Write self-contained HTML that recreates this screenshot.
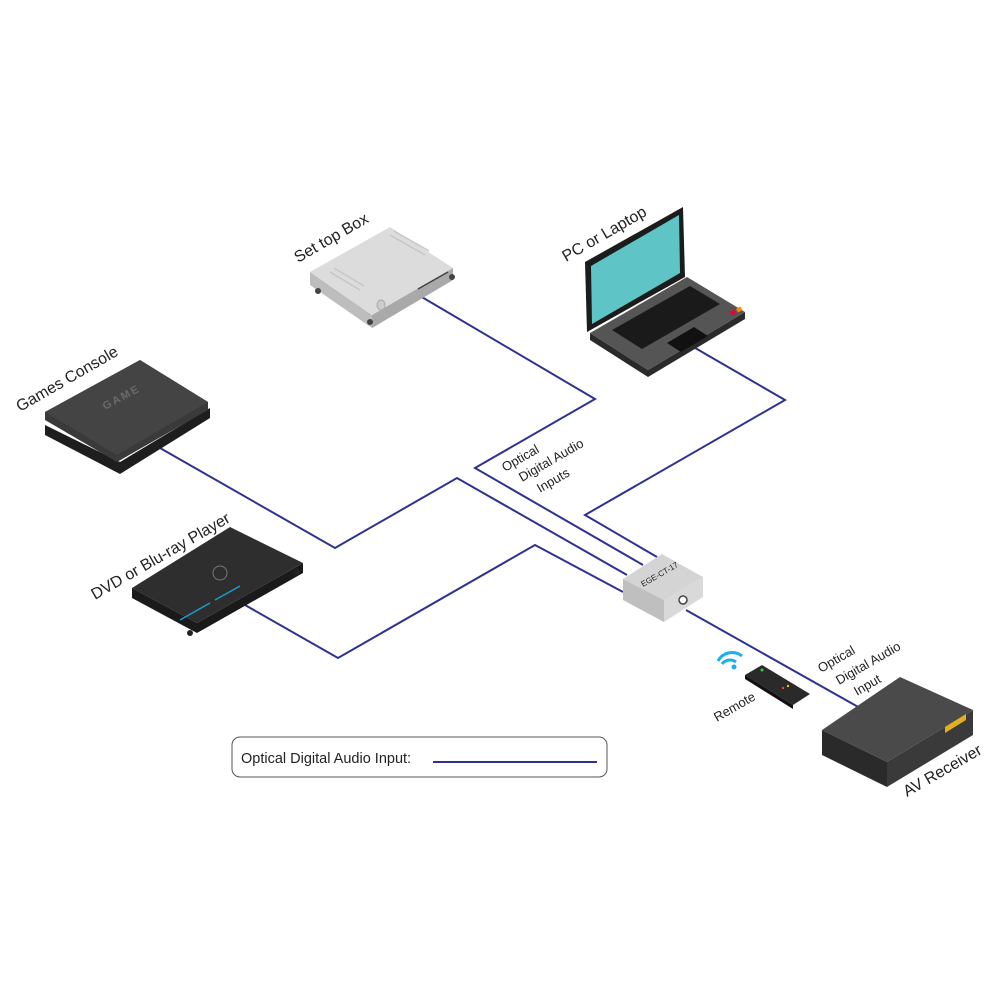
<!DOCTYPE html>
<html><head><meta charset="utf-8"><style>
html,body{margin:0;padding:0;background:#fff}
svg{display:block}
text{font-family:"Liberation Sans",sans-serif;fill:#222}
</style></head><body>
<svg width="1000" height="1000" viewBox="0 0 1000 1000" xmlns="http://www.w3.org/2000/svg">
<rect width="1000" height="1000" fill="#fff"/>
<g fill="none" stroke="#2e3192" stroke-width="2">
<polyline points="415,293 595,399 475,468 643,565"/>
<polyline points="160,448 335,548 457,478 627,575"/>
<polyline points="245,605 338,658 535,545 623,592"/>
<polyline points="690,345 785,400 585,515 657,557"/>
<line x1="686" y1="610" x2="860" y2="708"/>
</g>

<!-- Set top box -->
<polygon points="310,272 310,285 372,328 453,280 453,268 372,315" fill="#bdbdbd"/>
<polygon points="372,315 372,328 453,280 453,268" fill="#a9a9a9"/>
<polygon points="310,272 390,227 453,268 372,315" fill="#dcdcdc"/>
<circle cx="318" cy="291" r="3" fill="#444"/><circle cx="370" cy="322" r="3" fill="#444"/><circle cx="452" cy="277" r="3" fill="#444"/>
<g stroke="#c6c6c6" stroke-width="1.5"><line x1="330" y1="272" x2="360" y2="290"/><line x1="334" y1="268" x2="364" y2="286"/><line x1="390" y1="235" x2="425" y2="255"/><line x1="394" y1="231" x2="429" y2="251"/></g>
<g stroke="#444" stroke-width="1.5"><line x1="418" y1="289" x2="448" y2="272"/></g>
<ellipse cx="381" cy="305" rx="4" ry="5" fill="#ccc" stroke="#aaa"/>

<!-- Laptop -->
<polygon points="590,333 590,340 648,377 745,319 745,312 648,370" fill="#2a2a2a"/>
<polygon points="590,333 687,277 745,312 648,370" fill="#555"/>
<polygon points="585,262 683,207 685,277 587,332" fill="#1c1c1c"/>
<polygon points="591,266 679,215 680,273 592,324" fill="#5fc4c6"/>
<polygon points="612,330 690,286 720,304 642,349" fill="#1a1a1a"/>
<polygon points="667,343 694,327 708,336 681,352" fill="#111"/>
<rect x="730" y="312" width="5" height="4" fill="#e03" transform="rotate(-30 730 312)"/>
<rect x="736" y="309" width="5" height="4" fill="#f80" transform="rotate(-30 736 309)"/>

<!-- Games console -->
<polygon points="45,425 45,435 120,474 210,418 210,408 120,462" fill="#1e1e1e"/>
<polygon points="45,412 140,360 208,402 208,410 117,462 45,420" fill="#3a3a3a"/>
<polygon points="45,412 140,360 208,402 117,455" fill="#444"/>
<text x="0" y="0" font-size="11" font-weight="bold" style="fill:#6a6a6a;letter-spacing:2px" transform="translate(105,410) rotate(-28)">GAME</text>

<!-- DVD -->
<polygon points="132,588 132,598 197,633 303,573 303,563 197,623" fill="#1a1a1a"/>
<polygon points="132,588 230,527 303,563 197,623" fill="#2e2e2e"/>
<circle cx="220" cy="573" r="7" fill="none" stroke="#777" stroke-width="1"/>
<g stroke="#1e9bd0" stroke-width="1.5"><line x1="180" y1="620" x2="210" y2="603"/><line x1="215" y1="600" x2="240" y2="586"/></g>
<circle cx="190" cy="633" r="3" fill="#222"/><circle cx="297" cy="572" r="3" fill="#222"/>

<!-- EGE-CT-17 -->
<polygon points="623,579 664,600 664,622 623,600" fill="#bfbfbf"/>
<polygon points="664,600 703,577 703,597 664,622" fill="#d9d9d9"/>
<polygon points="623,579 662,554 703,577 664,600" fill="#d4d4d4"/>
<circle cx="683" cy="600" r="4" fill="#fff" stroke="#444" stroke-width="1.5"/>
<text x="0" y="0" font-size="8" transform="translate(643,587) rotate(-30)">EGE-CT-17</text>

<!-- Remote -->
<polygon points="745,675 762,665 810,694 793,705" fill="#2a2a2a"/>
<polygon points="745,675 793,705 793,709 745,679" fill="#111"/>
<circle cx="762" cy="670" r="1.5" fill="#3c3"/>
<circle cx="783" cy="688" r="1.2" fill="#e44"/><circle cx="788" cy="686" r="1.2" fill="#fb0"/>
<g fill="none" stroke="#1ab0e8" stroke-width="3"><path d="M722,664 a10,10 0 0 1 14,-2"/><path d="M718,661 a16,16 0 0 1 24,-5"/></g>
<circle cx="734" cy="667" r="2.5" fill="#1ab0e8"/>

<!-- AV receiver -->
<polygon points="822,730 887,762 887,787 822,755" fill="#2a2a2a"/>
<polygon points="887,762 973,710 973,735 887,787" fill="#3a3a3a"/>
<polygon points="822,730 900,677 973,710 887,762" fill="#4a4a4a"/>
<polygon points="945,727 966,714 966,720 945,733" fill="#e0b020"/>

<!-- Labels -->
<text font-size="16" transform="translate(20,412) rotate(-30)">Games Console</text>
<text font-size="16" transform="translate(298,263) rotate(-30)">Set top Box</text>
<text font-size="16" transform="translate(566,262) rotate(-30)">PC or Laptop</text>
<text font-size="16" transform="translate(95,600) rotate(-30)">DVD or Blu-ray Player</text>
<text font-size="13" transform="translate(505,472) rotate(-30)">Optical</text>
<text font-size="13" transform="translate(522,482) rotate(-30)">Digital Audio</text>
<text font-size="13" transform="translate(540,493) rotate(-30)">Inputs</text>
<text font-size="13" transform="translate(821,673) rotate(-30)">Optical</text>
<text font-size="13" transform="translate(839,685) rotate(-30)">Digital Audio</text>
<text font-size="13" transform="translate(857,696) rotate(-30)">Input</text>
<text font-size="13" transform="translate(717,722) rotate(-30)">Remote</text>
<text font-size="16" transform="translate(907,797) rotate(-30)">AV Receiver</text>

<!-- Legend -->
<rect x="232" y="737" width="375" height="40" rx="8" fill="#fff" stroke="#555" stroke-width="1"/>
<text x="241" y="763" font-size="14.5">Optical Digital Audio Input:</text>
<line x1="433" y1="762" x2="597" y2="762" stroke="#2e3192" stroke-width="2"/>
</svg>
</body></html>
